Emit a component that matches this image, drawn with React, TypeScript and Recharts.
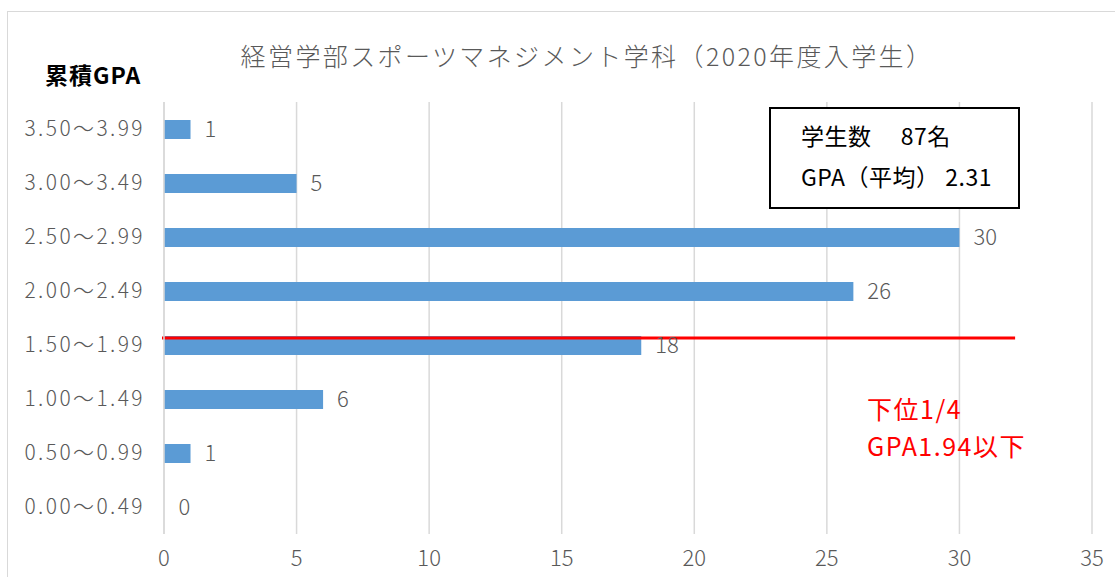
import { BarChart, Bar, XAxis, YAxis, CartesianGrid, LabelList, ReferenceLine, Cell } from 'recharts';

const categories = [
  '3.50～3.99',
  '3.00～3.49',
  '2.50～2.99',
  '2.00～2.49',
  '1.50～1.99',
  '1.00～1.49',
  '0.50～0.99',
  '0.00～0.49',
];
const counts = [1, 5, 30, 26, 18, 6, 1, 0];
const xTicks = [0, 5, 10, 15, 20, 25, 30, 35];

const data = categories.map((range, i) => ({ range, count: counts[i] }));

const FONT = "'Noto Sans CJK JP', 'Noto Sans', sans-serif";
const GRAY = '#595959';

// red "bottom quarter" marker line, slightly above the 1.50～1.99 band centre
function QuarterLine(props: any) {
  const { x1, y1, x2, y2 } = props;
  return <line x1={x1 - 2} y1={y1 - 7} x2={x2} y2={y2 - 7} stroke="#ff0000" strokeWidth={3} />;
}

export default function App() {
  return (
    <div
      style={{
        position: 'fixed',
        left: 0,
        top: 0,
        width: 1115,
        height: 577,
        overflow: 'hidden',
        background: '#fff',
        fontFamily: FONT,
      }}
    >
      {/* chart frame */}
      <div
        style={{
          position: 'absolute',
          left: 7,
          top: 11,
          width: 1200,
          height: 700,
          border: '1.5px solid #d9d9d9',
        }}
      />

      <div
        style={{
          position: 'absolute',
          left: 0,
          top: 38,
          width: 1174,
          textAlign: 'center',
          fontSize: 25,
          fontWeight: 300,
          color: GRAY,
          letterSpacing: 2.4,
          lineHeight: '34px',
        }}
      >
        経営学部スポーツマネジメント学科（2020年度入学生）
      </div>

      <div
        style={{
          position: 'absolute',
          left: 45,
          top: 59,
          fontSize: 23,
          fontWeight: 700,
          color: '#000',
          letterSpacing: 1,
          lineHeight: '30px',
        }}
      >
        累積GPA
      </div>

      <div style={{ position: 'absolute', left: 0, top: 0 }}>
        <BarChart
          width={1115}
          height={577}
          data={data}
          layout="vertical"
          margin={{ top: 102, right: 23, bottom: 13, left: 0 }}
          barSize={19}
        >
          <CartesianGrid horizontal={false} stroke="#d9d9d9" strokeWidth={1.5} />
          <XAxis
            type="number"
            domain={[0, 35]}
            ticks={xTicks}
            axisLine={false}
            tickLine={false}
            tickSize={0}
            tickMargin={16}
            height={30}
            tick={{ fill: GRAY, fontSize: 22, fontFamily: FONT, fontWeight: 300 }}
          />
          <YAxis
            type="category"
            dataKey="range"
            width={164}
            axisLine={{ stroke: '#d9d9d9', strokeWidth: 1.5 }}
            tickLine={false}
            tickSize={0}
            tickMargin={19}
            tick={{ fill: GRAY, fontSize: 21, fontFamily: FONT, fontWeight: 300, letterSpacing: 2.4 } as any}
          />
          <Bar dataKey="count" fill="#5b9bd5" minPointSize={0.5} isAnimationActive={false}>
            {data.map((d, i) => (
              <Cell key={`c-${i}`} fill={d.count === 0 ? 'transparent' : '#5b9bd5'} />
            ))}
            <LabelList
              dataKey="count"
              position="right"
              offset={14}
              fill={GRAY}
              fontSize={22}
              fontFamily={FONT}
              fontWeight={300}
            />
          </Bar>
          <ReferenceLine
            segment={[
              { x: 0, y: categories[4] },
              { x: 32.1, y: categories[4] },
            ]}
            shape={QuarterLine}
          />
        </BarChart>
      </div>

      {/* summary box */}
      <div
        style={{
          position: 'absolute',
          left: 769,
          top: 107,
          width: 247,
          height: 92,
          border: '2px solid #000',
          background: '#fff',
          color: '#000',
          fontSize: 23,
          letterSpacing: 0.5,
          paddingTop: 6,
          boxSizing: 'content-box',
          whiteSpace: 'pre',
        }}
      >
        <div style={{ paddingLeft: 30, height: 41, lineHeight: '40px' }}>学生数　 87名</div>
        <div style={{ paddingLeft: 30, height: 41, lineHeight: '40px' }}>GPA（平均） 2.31</div>
      </div>

      {/* lower quarter note */}
      <div
        style={{
          position: 'absolute',
          left: 867,
          top: 390,
          color: '#ff0000',
          fontSize: 25,
          letterSpacing: 1.5,
          lineHeight: '37px',
        }}
      >
        <div>下位1/4</div>
        <div>GPA1.94以下</div>
      </div>
    </div>
  );
}
